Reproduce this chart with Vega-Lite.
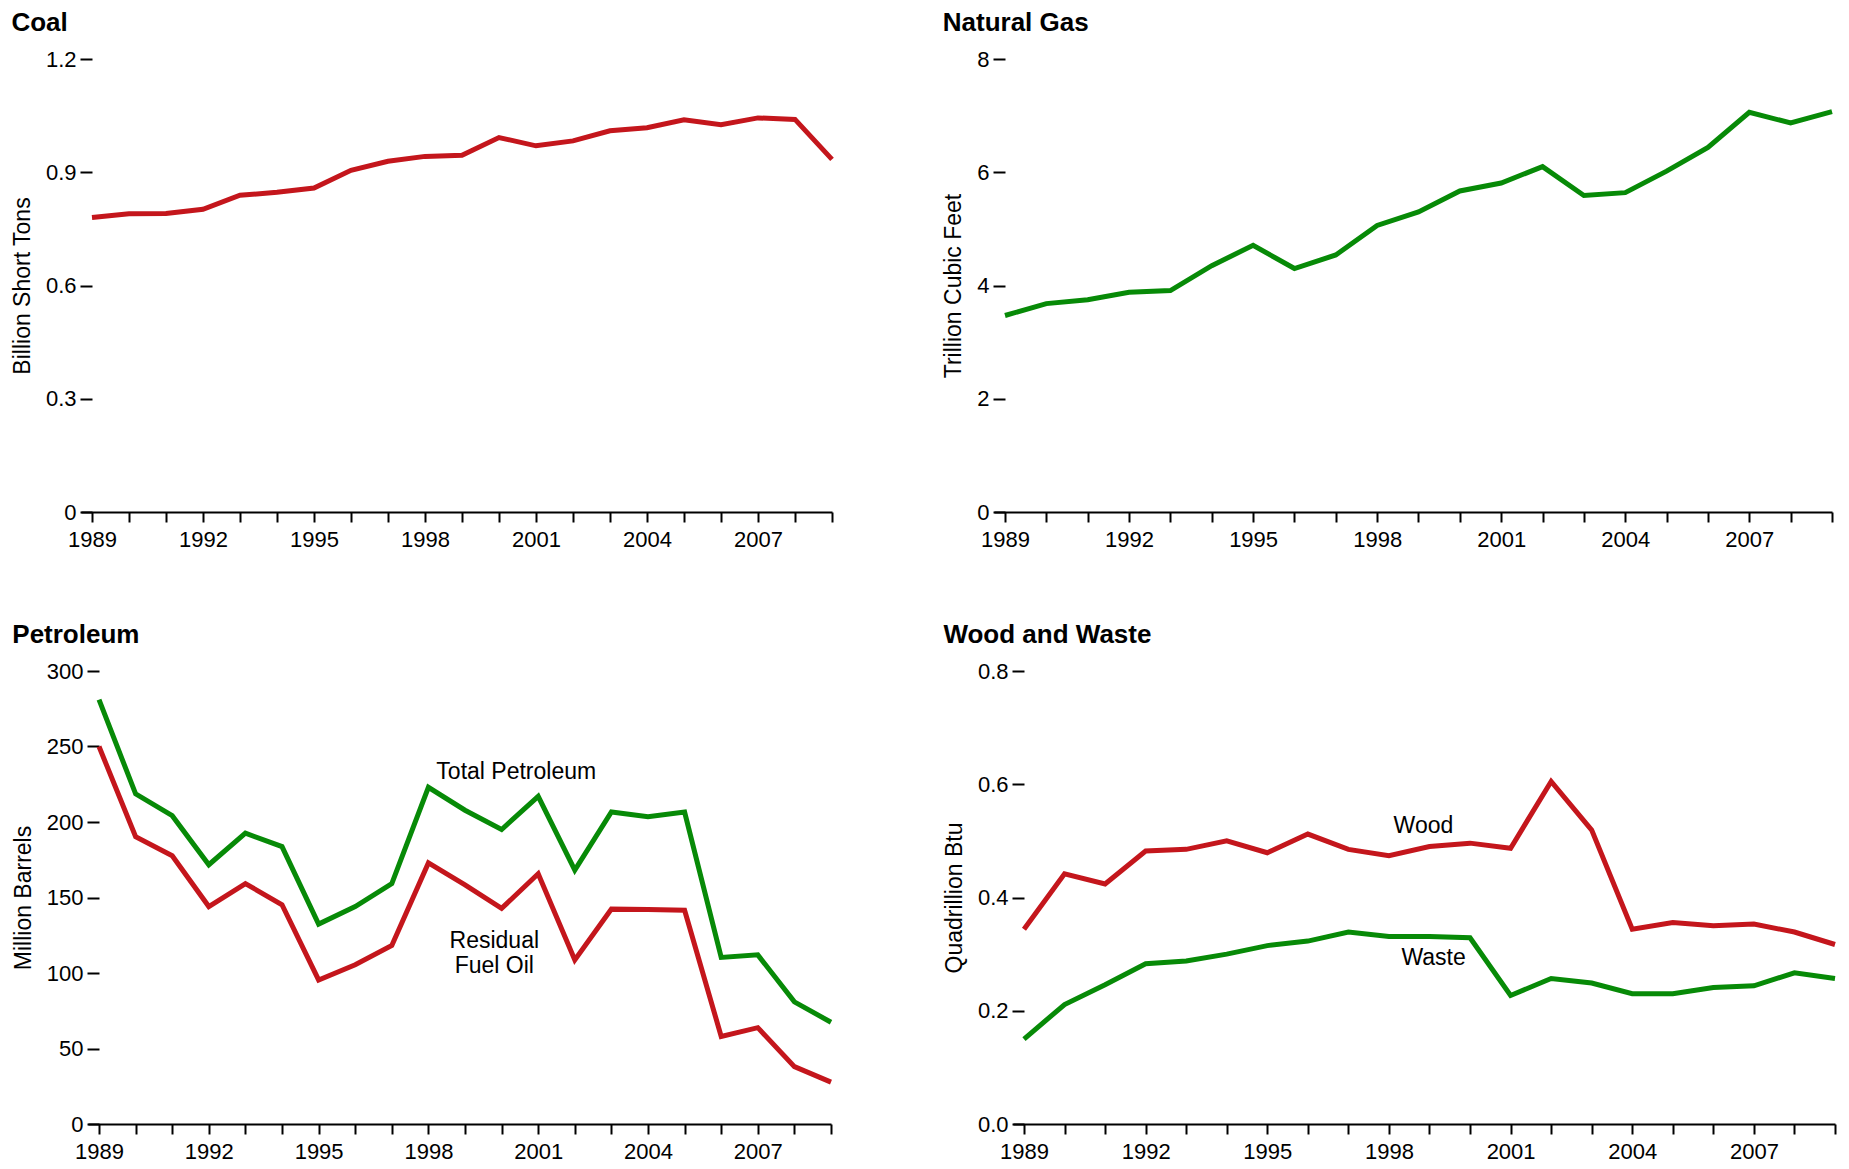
{
  "$schema": "https://vega.github.io/schema/vega-lite/v6.json",
  "background": "white",
  "padding": {"left": 11, "top": 10, "right": 0, "bottom": 0},
  "config": {
    "view": {"stroke": null},
    "font": "Liberation Sans",
    "title": {"anchor": "start", "frame": "bounds", "fontSize": 26, "fontWeight": "bold", "color": "black", "font": "Liberation Sans", "offset": 12},
    "axis": {"labelFont": "Liberation Sans", "titleFont": "Liberation Sans", "labelFontSize": 22, "titleFontSize": 23, "labelColor": "black", "titleColor": "black", "titleFontWeight": "normal", "tickColor": "black", "domainColor": "black", "grid": false, "tickWidth": 2, "domainWidth": 2},
    "axisX": {"tickSize": 10, "labelPadding": 7, "labelFlush": false, "labelOverlap": false},
    "axisY": {"domain": false, "tickSize": 12, "offset": -11, "labelPadding": 4, "titlePadding": 11, "labelOverlap": false}
  },
  "datasets": {
    "coal": [
      {"year": 1989, "value": 0.780}, {"year": 1990, "value": 0.790}, {"year": 1991, "value": 0.791},
      {"year": 1992, "value": 0.802}, {"year": 1993, "value": 0.839}, {"year": 1994, "value": 0.847},
      {"year": 1995, "value": 0.858}, {"year": 1996, "value": 0.905}, {"year": 1997, "value": 0.929},
      {"year": 1998, "value": 0.942}, {"year": 1999, "value": 0.945}, {"year": 2000, "value": 0.992},
      {"year": 2001, "value": 0.970}, {"year": 2002, "value": 0.983}, {"year": 2003, "value": 1.010},
      {"year": 2004, "value": 1.018}, {"year": 2005, "value": 1.039}, {"year": 2006, "value": 1.026},
      {"year": 2007, "value": 1.044}, {"year": 2008, "value": 1.040}, {"year": 2009, "value": 0.934}
    ],
    "gas": [
      {"year": 1989, "value": 3.47}, {"year": 1990, "value": 3.68}, {"year": 1991, "value": 3.75},
      {"year": 1992, "value": 3.88}, {"year": 1993, "value": 3.91}, {"year": 1994, "value": 4.35},
      {"year": 1995, "value": 4.71}, {"year": 1996, "value": 4.30}, {"year": 1997, "value": 4.54},
      {"year": 1998, "value": 5.06}, {"year": 1999, "value": 5.30}, {"year": 2000, "value": 5.67},
      {"year": 2001, "value": 5.81}, {"year": 2002, "value": 6.10}, {"year": 2003, "value": 5.59},
      {"year": 2004, "value": 5.64}, {"year": 2005, "value": 6.02}, {"year": 2006, "value": 6.44},
      {"year": 2007, "value": 7.06}, {"year": 2008, "value": 6.87}, {"year": 2009, "value": 7.07}
    ],
    "petroleum": [
      {"year": 1989, "series": "Total Petroleum", "value": 281}, {"year": 1990, "series": "Total Petroleum", "value": 218.6},
      {"year": 1991, "series": "Total Petroleum", "value": 204.2}, {"year": 1992, "series": "Total Petroleum", "value": 171.7},
      {"year": 1993, "series": "Total Petroleum", "value": 192.6}, {"year": 1994, "series": "Total Petroleum", "value": 183.7},
      {"year": 1995, "series": "Total Petroleum", "value": 132.4}, {"year": 1996, "series": "Total Petroleum", "value": 144.0},
      {"year": 1997, "series": "Total Petroleum", "value": 159.2}, {"year": 1998, "series": "Total Petroleum", "value": 223.0},
      {"year": 1999, "series": "Total Petroleum", "value": 207.8}, {"year": 2000, "series": "Total Petroleum", "value": 195.0},
      {"year": 2001, "series": "Total Petroleum", "value": 217.0}, {"year": 2002, "series": "Total Petroleum", "value": 168.1},
      {"year": 2003, "series": "Total Petroleum", "value": 206.6}, {"year": 2004, "series": "Total Petroleum", "value": 203.5},
      {"year": 2005, "series": "Total Petroleum", "value": 206.6}, {"year": 2006, "series": "Total Petroleum", "value": 110.3},
      {"year": 2007, "series": "Total Petroleum", "value": 112.0}, {"year": 2008, "series": "Total Petroleum", "value": 80.9},
      {"year": 2009, "series": "Total Petroleum", "value": 67.4},
      {"year": 1989, "series": "Residual Fuel Oil", "value": 250}, {"year": 1990, "series": "Residual Fuel Oil", "value": 190.2},
      {"year": 1991, "series": "Residual Fuel Oil", "value": 177.7}, {"year": 1992, "series": "Residual Fuel Oil", "value": 144.0},
      {"year": 1993, "series": "Residual Fuel Oil", "value": 159.2}, {"year": 1994, "series": "Residual Fuel Oil", "value": 145.2},
      {"year": 1995, "series": "Residual Fuel Oil", "value": 95.4}, {"year": 1996, "series": "Residual Fuel Oil", "value": 105.5},
      {"year": 1997, "series": "Residual Fuel Oil", "value": 118.2}, {"year": 1998, "series": "Residual Fuel Oil", "value": 172.9},
      {"year": 1999, "series": "Residual Fuel Oil", "value": 158.4}, {"year": 2000, "series": "Residual Fuel Oil", "value": 142.8},
      {"year": 2001, "series": "Residual Fuel Oil", "value": 165.7}, {"year": 2002, "series": "Residual Fuel Oil", "value": 108.6},
      {"year": 2003, "series": "Residual Fuel Oil", "value": 142.3}, {"year": 2004, "series": "Residual Fuel Oil", "value": 142.1},
      {"year": 2005, "series": "Residual Fuel Oil", "value": 141.6}, {"year": 2006, "series": "Residual Fuel Oil", "value": 58.0},
      {"year": 2007, "series": "Residual Fuel Oil", "value": 63.8}, {"year": 2008, "series": "Residual Fuel Oil", "value": 38.0},
      {"year": 2009, "series": "Residual Fuel Oil", "value": 27.7}
    ],
    "petroleum_labels": [
      {"year": 2000.4, "value": 233, "label": "Total Petroleum"},
      {"year": 1999.8, "value": 121.5, "label": "Residual\nFuel Oil"}
    ],
    "wood": [
      {"year": 1989, "series": "Wood", "value": 0.344}, {"year": 1990, "series": "Wood", "value": 0.442},
      {"year": 1991, "series": "Wood", "value": 0.424}, {"year": 1992, "series": "Wood", "value": 0.482},
      {"year": 1993, "series": "Wood", "value": 0.485}, {"year": 1994, "series": "Wood", "value": 0.500},
      {"year": 1995, "series": "Wood", "value": 0.479}, {"year": 1996, "series": "Wood", "value": 0.512},
      {"year": 1997, "series": "Wood", "value": 0.485}, {"year": 1998, "series": "Wood", "value": 0.474},
      {"year": 1999, "series": "Wood", "value": 0.490}, {"year": 2000, "series": "Wood", "value": 0.496},
      {"year": 2001, "series": "Wood", "value": 0.487}, {"year": 2002, "series": "Wood", "value": 0.605},
      {"year": 2003, "series": "Wood", "value": 0.519}, {"year": 2004, "series": "Wood", "value": 0.344},
      {"year": 2005, "series": "Wood", "value": 0.356}, {"year": 2006, "series": "Wood", "value": 0.350},
      {"year": 2007, "series": "Wood", "value": 0.353}, {"year": 2008, "series": "Wood", "value": 0.339},
      {"year": 2009, "series": "Wood", "value": 0.317},
      {"year": 1989, "series": "Waste", "value": 0.150}, {"year": 1990, "series": "Waste", "value": 0.211},
      {"year": 1991, "series": "Waste", "value": 0.246}, {"year": 1992, "series": "Waste", "value": 0.283},
      {"year": 1993, "series": "Waste", "value": 0.288}, {"year": 1994, "series": "Waste", "value": 0.300},
      {"year": 1995, "series": "Waste", "value": 0.315}, {"year": 1996, "series": "Waste", "value": 0.323},
      {"year": 1997, "series": "Waste", "value": 0.339}, {"year": 1998, "series": "Waste", "value": 0.331},
      {"year": 1999, "series": "Waste", "value": 0.331}, {"year": 2000, "series": "Waste", "value": 0.329},
      {"year": 2001, "series": "Waste", "value": 0.227}, {"year": 2002, "series": "Waste", "value": 0.257},
      {"year": 2003, "series": "Waste", "value": 0.249}, {"year": 2004, "series": "Waste", "value": 0.230},
      {"year": 2005, "series": "Waste", "value": 0.230}, {"year": 2006, "series": "Waste", "value": 0.241},
      {"year": 2007, "series": "Waste", "value": 0.244}, {"year": 2008, "series": "Waste", "value": 0.267},
      {"year": 2009, "series": "Waste", "value": 0.257}
    ],
    "wood_labels": [
      {"year": 1998.85, "value": 0.526, "label": "Wood"},
      {"year": 1999.1, "value": 0.293, "label": "Waste"}
    ]
  },
  "columns": 1,
  "align": "none",
  "spacing": 72,
  "concat": [
    {
      "spacing": 100,
      "hconcat": [
        {
          "title": "Coal",
          "width": 751, "height": 453,
          "data": {"name": "coal"},
          "mark": {"type": "line", "strokeWidth": 5, "color": "#c4161c"},
          "encoding": {
            "x": {"field": "year", "type": "quantitative",
              "scale": {"domain": [1988.703, 2009], "range": [-7, 744], "nice": false, "zero": false},
              "axis": {"title": null, "labelOverlap": false, "values": [1989,1990,1991,1992,1993,1994,1995,1996,1997,1998,1999,2000,2001,2002,2003,2004,2005,2006,2007,2008,2009],
                "labelExpr": "(datum.value - 1989) % 3 == 0 ? format(datum.value, 'd') : ''"}},
            "y": {"field": "value", "type": "quantitative",
              "scale": {"domain": [0, 1.2], "nice": false},
              "axis": {"title": "Billion Short Tons", "offset": -4, "values": [0, 0.3, 0.6, 0.9, 1.2],
                "labelExpr": "datum.value == 0 ? '0' : format(datum.value, '.1f')"}}
          }
        },
        {
          "title": "Natural Gas",
          "width": 838, "height": 453,
          "data": {"name": "gas"},
          "mark": {"type": "line", "strokeWidth": 5, "color": "#078a07"},
          "encoding": {
            "x": {"field": "year", "type": "quantitative",
              "scale": {"domain": [1988.734, 2009], "nice": false, "zero": false},
              "axis": {"title": null, "labelOverlap": false, "values": [1989,1990,1991,1992,1993,1994,1995,1996,1997,1998,1999,2000,2001,2002,2003,2004,2005,2006,2007,2008,2009],
                "labelExpr": "(datum.value - 1989) % 3 == 0 ? format(datum.value, 'd') : ''"}},
            "y": {"field": "value", "type": "quantitative",
              "scale": {"domain": [0, 8], "nice": false},
              "axis": {"title": "Trillion Cubic Feet", "values": [0, 2, 4, 6, 8], "format": "d"}}
          }
        }
      ]
    },
    {
      "spacing": 102,
      "resolve": {"scale": {"color": "independent"}},
      "hconcat": [
        {
          "title": "Petroleum",
          "width": 743, "height": 453,
          "encoding": {
            "x": {"field": "year", "type": "quantitative",
              "scale": {"domain": [1988.699, 2009], "nice": false, "zero": false},
              "axis": {"title": null, "labelOverlap": false, "values": [1989,1990,1991,1992,1993,1994,1995,1996,1997,1998,1999,2000,2001,2002,2003,2004,2005,2006,2007,2008,2009],
                "labelExpr": "(datum.value - 1989) % 3 == 0 ? format(datum.value, 'd') : ''"}},
            "y": {"field": "value", "type": "quantitative",
              "scale": {"domain": [0, 300], "nice": false},
              "axis": {"title": "Million Barrels", "values": [0, 50, 100, 150, 200, 250, 300], "format": "d"}}
          },
          "layer": [
            {
              "data": {"name": "petroleum"},
              "mark": {"type": "line", "strokeWidth": 5},
              "encoding": {
                "color": {"field": "series", "type": "nominal",
                  "scale": {"domain": ["Total Petroleum", "Residual Fuel Oil"], "range": ["#078a07", "#c4161c"]},
                  "legend": null}
              }
            },
            {
              "data": {"name": "petroleum_labels"},
              "mark": {"type": "text", "font": "Liberation Sans", "fontSize": 23, "lineBreak": "\n", "lineHeight": 25, "align": "center", "baseline": "middle", "color": "black"},
              "encoding": {
                "text": {"field": "label"}
              }
            }
          ]
        },
        {
          "title": "Wood and Waste",
          "width": 822, "height": 453,
          "encoding": {
            "x": {"field": "year", "type": "quantitative",
              "scale": {"domain": [1988.729, 2009], "nice": false, "zero": false},
              "axis": {"title": null, "labelOverlap": false, "values": [1989,1990,1991,1992,1993,1994,1995,1996,1997,1998,1999,2000,2001,2002,2003,2004,2005,2006,2007,2008,2009],
                "labelExpr": "(datum.value - 1989) % 3 == 0 ? format(datum.value, 'd') : ''"}},
            "y": {"field": "value", "type": "quantitative",
              "scale": {"domain": [0, 0.8], "nice": false},
              "axis": {"title": "Quadrillion Btu", "values": [0, 0.2, 0.4, 0.6, 0.8], "format": ".1f"}}
          },
          "layer": [
            {
              "data": {"name": "wood"},
              "mark": {"type": "line", "strokeWidth": 5},
              "encoding": {
                "color": {"field": "series", "type": "nominal",
                  "scale": {"domain": ["Wood", "Waste"], "range": ["#c4161c", "#078a07"]},
                  "legend": null}
              }
            },
            {
              "data": {"name": "wood_labels"},
              "mark": {"type": "text", "font": "Liberation Sans", "fontSize": 23, "align": "center", "baseline": "middle", "color": "black"},
              "encoding": {
                "text": {"field": "label"}
              }
            }
          ]
        }
      ]
    }
  ]
}
